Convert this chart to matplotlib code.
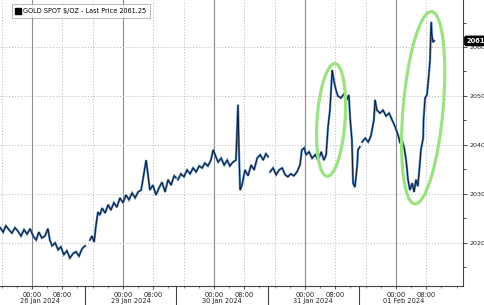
import matplotlib.pyplot as plt
from matplotlib.patches import Ellipse
from matplotlib.lines import Line2D
from matplotlib.ticker import MultipleLocator
from matplotlib.transforms import IdentityTransform, blended_transform_factory

plt.rcParams['font.family'] = ['DejaVu Sans']

# trading-time axis: hours since 26 Jan 00:00, weekend removed
day_names = ['26 Jan 2024', '29 Jan 2024', '30 Jan 2024', '31 Jan 2024', '01 Feb 2024']
day_starts = [0, 24, 48, 72, 96]
session_ends = [14.0, 38.0, 62.3, 86.3]

hours_a = [-8.4, -7.6, -6.9, -6.1, -5.3, -4.5, -3.7, -2.9, -2.1, -1.3, -0.5, 0.3, 1.1, 1.8, 2.6,
           3.4, 4.2, 4.7, 5.3, 6.1, 6.9, 7.6, 8.4, 9.2, 10.0, 10.8, 11.6, 12.4, 13.2, 14.0]
price_a = [2023.1, 2022.2, 2023.5, 2022.7, 2022.0, 2023.1, 2022.4, 2021.4, 2022.7, 2021.8, 2022.9,
           2021.4, 2020.6, 2022.2, 2021.0, 2021.4, 2022.9, 2020.6, 2019.4, 2020.0, 2018.6, 2019.2,
           2017.6, 2018.4, 2016.9, 2017.8, 2018.2, 2017.3, 2018.8, 2019.4]

hours_b = [15.3, 15.8, 16.4, 16.9, 17.4, 17.9, 18.5, 19.3, 20.1, 20.8, 21.6, 22.4, 23.2, 24.0, 24.8,
           25.6, 26.4, 27.2, 28.0, 28.8, 29.6, 30.1, 30.6, 31.1, 31.9, 32.7, 33.5, 34.3, 35.1, 35.9,
           36.7, 37.5, 38.0]
price_b = [2020.6, 2021.4, 2020.2, 2023.7, 2026.3, 2025.7, 2027.1, 2026.1, 2027.8, 2026.7, 2028.2,
           2027.3, 2029.2, 2028.2, 2029.8, 2028.8, 2030.2, 2029.2, 2030.4, 2030.8, 2034.5, 2036.9,
           2033.9, 2030.8, 2031.8, 2029.8, 2031.2, 2032.4, 2030.4, 2032.9, 2031.8, 2033.7, 2033.3]

hours_c = [38.5, 39.3, 40.1, 40.9, 41.7, 42.5, 43.3, 44.1, 44.9, 45.6, 46.4, 47.2, 47.8, 48.3, 49.1,
           49.9, 50.7, 51.5, 52.2, 53.0, 53.8, 54.35, 54.6, 54.9, 55.4, 56.2, 57.0, 57.8, 58.6, 59.4,
           60.2, 61.0, 61.7, 62.3]
price_c = [2032.9, 2034.1, 2033.5, 2034.9, 2034.1, 2035.3, 2034.5, 2035.7, 2035.3, 2036.3, 2035.7,
           2036.9, 2039.0, 2038.0, 2036.5, 2037.3, 2035.9, 2036.9, 2035.7, 2036.5, 2036.9, 2048.2,
           2039.0, 2030.8, 2031.8, 2034.9, 2033.7, 2035.9, 2034.9, 2037.3, 2038.0, 2036.9, 2038.2,
           2037.6]

hours_d = [62.8, 63.6, 64.4, 65.2, 66.0, 66.8, 67.5, 68.3, 69.1, 69.9, 70.7, 71.2, 71.8, 72.3, 73.1,
           73.9, 74.7, 75.5, 76.3, 77.0, 77.6, 78.1, 78.6, 79.2, 79.7, 80.2, 80.7, 81.5, 82.3, 83.1,
           83.6, 83.9, 84.4, 84.7, 85.2, 85.8, 86.0, 86.5]
price_d = [2034.5, 2035.3, 2033.9, 2034.9, 2035.3, 2033.9, 2033.5, 2034.1, 2033.7, 2034.5, 2035.9,
           2039.0, 2039.4, 2038.0, 2038.6, 2037.3, 2038.0, 2036.9, 2038.6, 2036.9, 2038.0, 2043.7,
           2047.1, 2055.3, 2052.9, 2051.2, 2050.0, 2049.6, 2050.4, 2049.2, 2050.2, 2045.7, 2041.0,
           2032.2, 2031.4, 2035.9, 2039.0, 2039.6]

hours_e = [87.1, 87.9, 88.7, 89.4, 90.2, 90.5, 91.0, 91.8, 92.6, 93.4, 94.2, 95.0, 95.8, 96.6, 97.1,
           97.6, 98.2, 98.7, 99.2, 99.7, 100.3, 100.8, 101.3, 101.8, 102.4, 102.6, 103.2, 103.3,
           103.7, 104.2, 104.7, 105.0, 105.3, 105.5, 105.8, 106.1]
price_e = [2040.6, 2041.4, 2040.6, 2041.8, 2045.1, 2049.2, 2047.1, 2046.5, 2047.1, 2045.9, 2046.5,
           2045.1, 2043.7, 2042.0, 2040.4, 2041.0, 2039.4, 2036.9, 2032.9, 2030.8, 2032.2, 2030.4,
           2032.9, 2031.6, 2036.9, 2039.0, 2041.4, 2045.1, 2049.6, 2050.2, 2054.3, 2057.3, 2065.1,
           2062.4, 2061.0, 2061.25]

sessions = [(hours_a, price_a), (hours_b, price_b), (hours_c, price_c),
            (hours_d, price_d), (hours_e, price_e)]

last_price = 2061.25
y_ticks = [2020, 2030, 2040, 2050, 2060]
# highlighted moves: (centre hour, centre price, width px, height px, tilt)
highlights = [(78.9, 2045.1, 28, 113, -4), (103.2, 2047.6, 40, 193, -5)]

fig = plt.figure(figsize=(4.85, 3.05), dpi=100)
ax = fig.add_axes([0, 0.0623, 0.9546, 0.9377])
ax.set_xlim(-8.44, 113.7)
ax.set_ylim(2011.2, 2069.6)

# grid
for d in day_starts:
    ax.axvline(d, color='#8c8c8c', lw=0.8, zorder=1)
    for off in (-8, 8):
        ax.axvline(d + off, color='#b5b5b5', lw=0.7, ls=(0, (1, 2)), zorder=1)
for yt in y_ticks:
    ax.axhline(yt, color='#b5b5b5', lw=0.7, ls=(0, (1, 2)), zorder=1)

for h, p in sessions:
    ax.plot(h, p, color='#4a82c4', lw=1.6, zorder=2, solid_joinstyle='miter')
    ax.plot(h, p, color='#101a2c', lw=0.7, zorder=3)

# green ellipses, sized in pixels
for hc, pc, w, hgt, ang in highlights:
    cx, cy = ax.transData.transform((hc, pc))
    ax.add_patch(Ellipse((cx, cy), w, hgt, angle=ang, transform=IdentityTransform(),
                         fill=False, ec='#9be283', lw=2.3, zorder=4))

# axes styling
for s in ('left', 'top'):
    ax.spines[s].set_visible(False)
for s in ('right', 'bottom'):
    ax.spines[s].set_color('#444444')
    ax.spines[s].set_linewidth(0.8)

ax.yaxis.tick_right()
ax.set_yticks(y_ticks)
ax.yaxis.set_minor_locator(MultipleLocator(5))
ax.tick_params(axis='y', which='major', labelsize=4.6, length=3, width=0.6,
               color='#333333', labelcolor='#222222', pad=1.5)
ax.tick_params(axis='y', which='minor', length=2, width=0.6, color='#333333')

xt, xl = [], []
for d in day_starts:
    xt += [d, d + 8]
    xl += ['00:00', '08:00']
ax.set_xticks(xt)
ax.set_xticklabels(xl)
ax.xaxis.set_minor_locator(MultipleLocator(4))
ax.tick_params(axis='x', which='major', labelsize=4.8, length=2.5, width=0.6,
               color='#333333', labelcolor='#222222', pad=1.5)
ax.tick_params(axis='x', which='minor', length=1.5, width=0.5, color='#555555')

trans = blended_transform_factory(ax.transData, ax.transAxes)
for d, name in zip(day_starts, day_names):
    ax.text(d + 2, -0.042, name, transform=trans, ha='center', va='top',
            fontsize=4.8, color='#222222')
for se in session_ends:
    ax.plot([se, se], [0, -0.08], transform=trans, color='#444444', lw=0.8, clip_on=False)

# last price tag (runs off the right edge, as in the source chart)
ax.annotate(f'{last_price:.2f}', xy=(1, last_price), xycoords=('axes fraction', 'data'),
            xytext=(2.5, 0), textcoords='offset points', ha='left', va='center',
            color='white', fontsize=4.8, fontweight='bold', annotation_clip=False,
            bbox=dict(boxstyle='round,pad=0.25', fc='black', ec='black'))

handle = Line2D([], [], marker='s', color='black', ls='none', markersize=4)
leg = ax.legend([handle], [f'GOLD SPOT $/OZ - Last Price {last_price}'], loc='upper left',
                bbox_to_anchor=(0.025, 0.985), fontsize=4.7, frameon=True, fancybox=False,
                edgecolor='#9a9a9a', handlelength=0.8, handletextpad=0.4, borderpad=0.6,
                borderaxespad=0)
leg.get_frame().set_linewidth(0.6)

fig.savefig('out.png', dpi=100)
